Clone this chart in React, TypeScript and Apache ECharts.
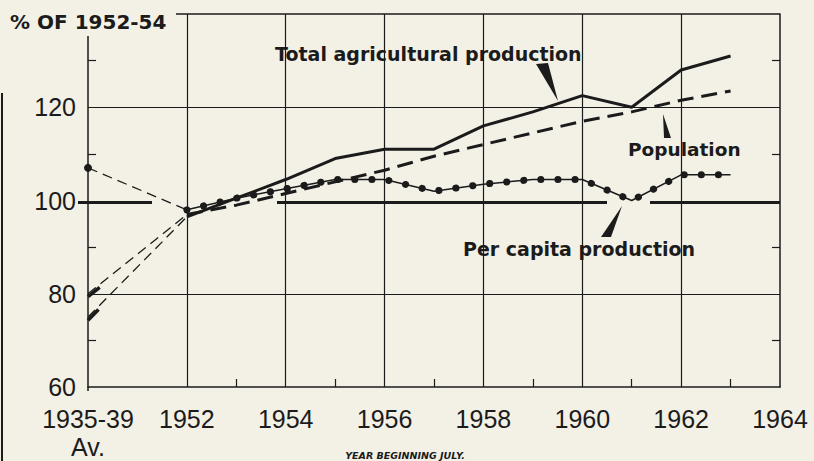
import React, { useEffect, useRef } from "react";
import * as echarts from "echarts";

// Categories (1951 is an empty spacer slot between the prewar average and 1952)
const years = ["1935-39\nAv.", "1951", "1952", "1953", "1954", "1955", "1956", "1957", "1958", "1959", "1960", "1961", "1962", "1963", "1964"];

// Prewar averages (1935-39)
const prewarTotal = 75;
const prewarPopulation = 80;
const prewarPerCapita = 107;

// 1952 .. 1963
const totalProduction = [96.5, 100.5, 104.5, 109, 111, 111, 116, 119, 122.5, 120, 128, 131];
const population = [97, 99, 101.5, 104, 106.5, 109.5, 112, 114.5, 117, 119, 121.5, 123.5];
const perCapita = [98, 100.5, 102.5, 104.5, 104.5, 102, 103.5, 104.5, 104.5, 100, 105.5, 105.5];

const yTickValues = [70, 90, 110, 130];
const yLabelValues = [60, 80, 100, 120];
const gridLinesY = [80, 120];

const INK = "#1b1b1b";
const BG = "#f3f0e6";

const GRID = { left: 88, right: 34, top: 14, bottom: 70 };
const W = 814;
const H = 461;

function mainData(vals: number[]) {
  return years.map((_, i) => (i >= 2 && i - 2 < vals.length ? vals[i - 2] : null));
}
function connectorData(base: number, vals: number[]) {
  return years.map((_, i) => (i === 0 ? base : i === 2 ? vals[0] : null));
}

export default function App() {
  const ref = useRef<HTMLDivElement>(null);
  useEffect(() => {
    document.body.style.margin = "0";
    const chart = echarts.init(ref.current!, null, { renderer: "svg" });
    const plotH = H - GRID.top - GRID.bottom;
    const plotW = W - GRID.left - GRID.right;
    const step = plotW / (years.length - 1);
    const yPix = (v: number) => GRID.top + ((140 - v) / 80) * plotH;
    const y100 = yPix(100);
    const right = W - GRID.right;

    // heavy first dash of a prewar connector, following its slope
    const heavyDash = (a: number, b: number) => {
      const x1 = GRID.left, y1 = yPix(a);
      const x2 = GRID.left + 2 * step, y2 = yPix(b);
      const len = Math.hypot(x2 - x1, y2 - y1);
      const d = 15;
      return {
        type: "line",
        shape: { x1, y1, x2: x1 + ((x2 - x1) / len) * d, y2: y1 + ((y2 - y1) / len) * d },
        style: { stroke: INK, lineWidth: 3.5 },
        silent: true,
      };
    };

    const labelFont = "'DejaVu Sans', sans-serif";
    const tickFont = "'Liberation Sans', Arial, sans-serif";

    const option: any = {
      animation: false,
      backgroundColor: BG,
      grid: { ...GRID },
      xAxis: {
        type: "category",
        data: years,
        boundaryGap: false,
        axisLine: { show: true, lineStyle: { color: INK, width: 1.5 } },
        axisTick: {
          show: true,
          inside: true,
          length: 8,
          interval: (i: number) => i >= 3 && i % 2 === 1,
          lineStyle: { color: INK, width: 1.2 },
        },
        axisLabel: {
          interval: (i: number) => i % 2 === 0,
          fontSize: 25,
          fontFamily: tickFont,
          color: INK,
          margin: 18,
          lineHeight: 28,
        },
        splitLine: {
          show: true,
          interval: (i: number) => i >= 2 && i <= 12 && i % 2 === 0,
          lineStyle: { color: INK, width: 1.2 },
        },
      },
      yAxis: [
        {
          type: "value",
          min: 60,
          max: 140,
          interval: 10,
          position: "left",
          axisLine: { show: false },
          axisTick: {
            show: true,
            inside: true,
            length: 8,
            customValues: yTickValues,
            lineStyle: { color: INK, width: 1.2 },
          },
          axisLabel: {
            fontSize: 25,
            fontFamily: tickFont,
            color: INK,
            margin: 12,
            formatter: (v: number) => (yLabelValues.includes(v) ? String(v) : ""),
          },
          splitLine: { show: false },
        },
        {
          type: "value",
          min: 60,
          max: 140,
          interval: 10,
          position: "right",
          axisLine: { show: true, lineStyle: { color: INK, width: 1.5 } },
          axisTick: {
            show: true,
            inside: true,
            length: 8,
            customValues: yTickValues,
            lineStyle: { color: INK, width: 1.2 },
          },
          axisLabel: { show: false },
          splitLine: { show: false },
        },
      ],
      series: [
        {
          name: "total-prewar",
          type: "line",
          data: connectorData(prewarTotal, totalProduction),
          connectNulls: true,
          showSymbol: false,
          symbol: "none",
          lineStyle: { color: INK, width: 1.3, type: [10, 6] },
          z: 3,
        },
        {
          name: "population-prewar",
          type: "line",
          data: connectorData(prewarPopulation, population),
          connectNulls: true,
          showSymbol: false,
          symbol: "none",
          lineStyle: { color: INK, width: 1.3, type: [10, 6] },
          z: 3,
        },
        {
          name: "percap-prewar",
          type: "line",
          data: connectorData(prewarPerCapita, perCapita).map((v, i) =>
            i === 0 ? { value: v, symbol: "circle", symbolSize: 8 } : { value: v, symbol: "none" }
          ),
          connectNulls: true,
          itemStyle: { color: INK },
          lineStyle: { color: INK, width: 1.3, type: [10, 6] },
          z: 3,
        },
        {
          name: "Total agricultural production",
          type: "line",
          data: mainData(totalProduction),
          symbol: "none",
          lineStyle: { color: INK, width: 3 },
          z: 4,
          markLine: {
            silent: true,
            symbol: ["none", "none"],
            label: { show: false },
            lineStyle: { color: INK, width: 1.2, type: "solid" },
            data: gridLinesY.map((v) => ({ yAxis: v })),
          },
        },
        {
          name: "Population",
          type: "line",
          data: mainData(population),
          symbol: "none",
          lineStyle: { color: INK, width: 3, type: [16, 8] },
          z: 4,
        },
        {
          name: "Per capita production",
          type: "line",
          data: mainData(perCapita),
          symbol: "none",
          lineStyle: { color: INK, width: 1.5 },
          z: 4,
        },
        {
          name: "Per capita dots",
          type: "line",
          data: mainData(perCapita),
          symbol: "none",
          lineStyle: { color: INK, width: 7, type: [0.1, 17], cap: "round" },
          z: 5,
        },
      ],
      graphic: [
        // scanned page edge
        { type: "rect", shape: { x: 1, y: 93, width: 2, height: H - 93 }, style: { fill: INK }, silent: true },
        // left axis line (starts below the title)
        { type: "line", shape: { x1: GRID.left, y1: 36, x2: GRID.left, y2: H - GRID.bottom }, style: { stroke: INK, lineWidth: 1.5 }, silent: true },
        // top frame
        { type: "line", shape: { x1: 176, y1: GRID.top, x2: right, y2: GRID.top }, style: { stroke: INK, lineWidth: 1.5 }, silent: true },
        // heavy 100 line, broken where lines cross
        { type: "line", shape: { x1: 78, y1: y100, x2: 152, y2: y100 }, style: { stroke: INK, lineWidth: 3 }, silent: true },
        { type: "line", shape: { x1: 277, y1: y100, x2: 607, y2: y100 }, style: { stroke: INK, lineWidth: 3 }, silent: true },
        { type: "line", shape: { x1: 650, y1: y100, x2: right, y2: y100 }, style: { stroke: INK, lineWidth: 3 }, silent: true },
        heavyDash(prewarPopulation, population[0]),
        heavyDash(prewarTotal, totalProduction[0]),
        // title
        {
          type: "text",
          x: 10,
          y: 22,
          style: { text: "% OF 1952-54", fill: INK, font: `bold 20px ${labelFont}`, verticalAlign: "middle", align: "left" },
          silent: true,
        },
        // series labels
        {
          type: "text",
          x: 275,
          y: 54,
          style: { text: "Total agricultural production", fill: INK, font: `bold 19px ${labelFont}`, verticalAlign: "middle", align: "left" },
          silent: true,
        },
        {
          type: "text",
          x: 628,
          y: 149,
          style: { text: "Population", fill: INK, font: `bold 18.5px ${labelFont}`, verticalAlign: "middle", align: "left" },
          silent: true,
        },
        {
          type: "text",
          x: 463,
          y: 249,
          style: { text: "Per capita production", fill: INK, font: `bold 19px ${labelFont}`, verticalAlign: "middle", align: "left" },
          silent: true,
        },
        {
          type: "text",
          x: 405,
          y: 455,
          style: { text: "YEAR BEGINNING JULY.", fill: INK, font: `italic bold 9.5px ${labelFont}`, verticalAlign: "middle", align: "center" },
          silent: true,
        },
        // pointer wedges
        { type: "polygon", shape: { points: [[536, 64], [548, 63], [558, 101]] }, style: { fill: INK }, silent: true },
        { type: "polygon", shape: { points: [[663, 114], [664, 138], [671, 138]] }, style: { fill: INK }, silent: true },
        { type: "polygon", shape: { points: [[622, 206], [601, 237], [611, 237]] }, style: { fill: INK }, silent: true },
      ],
    };
    chart.setOption(option);
    return () => chart.dispose();
  }, []);
  return <div ref={ref} style={{ width: W, height: H, overflow: "hidden" }} />;
}
